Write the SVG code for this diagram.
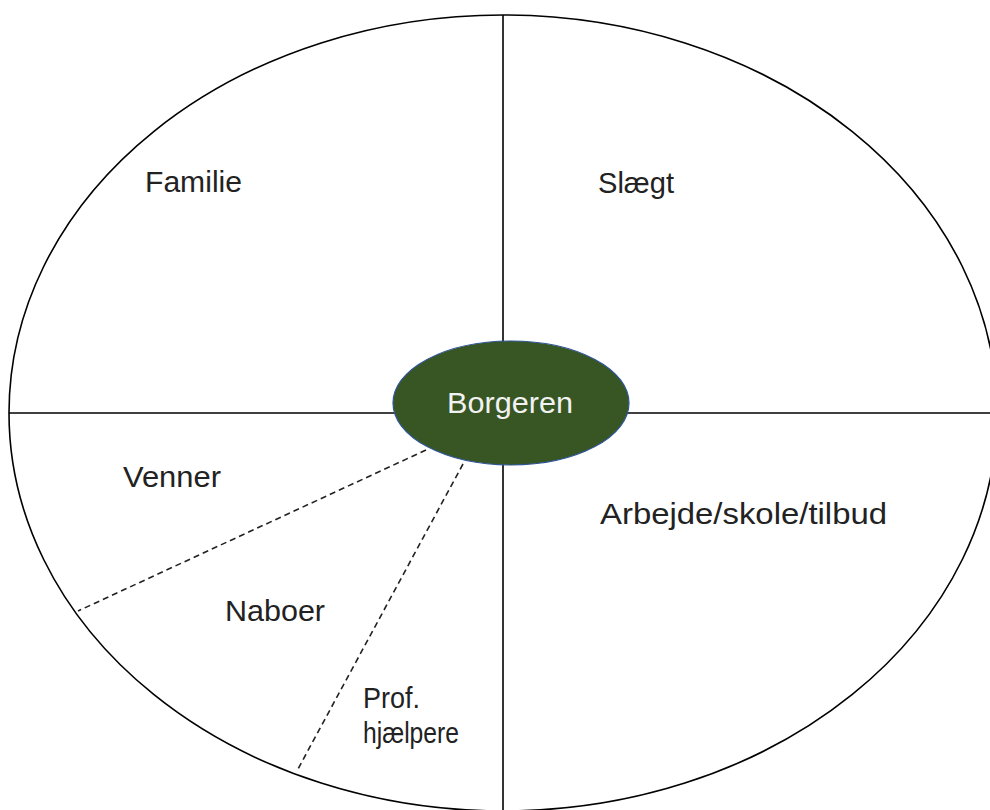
<svg xmlns="http://www.w3.org/2000/svg" width="990" height="810" viewBox="0 0 990 810">
<style>
.lbl{font-family:"Liberation Sans",Arial,sans-serif;font-size:30px;fill:#222;}
.ln{stroke:#000;stroke-width:1.6;fill:none;}
.dash{stroke:#222;stroke-width:1.6;fill:none;stroke-dasharray:6,4;}
</style>
<rect width="990" height="810" fill="#fff"/>
<g id="outer">
<ellipse cx="503" cy="413" rx="494" ry="398" class="ln"/>
</g>
<g id="connectors">
<line x1="9" y1="413" x2="990" y2="413" class="ln"/>
<line x1="503" y1="15" x2="503" y2="810" class="ln"/>
<line x1="426" y1="450" x2="78" y2="611" class="dash"/>
<line x1="463" y1="464" x2="298" y2="769" class="dash"/>
</g>
<g id="center">
<ellipse cx="511" cy="403" rx="118" ry="62" fill="#375623" stroke="#2F5597" stroke-width="1.2"/>
<text x="510" y="413" text-anchor="middle" class="lbl" style="fill:#f2f2f2;font-size:29px" textLength="126" lengthAdjust="spacingAndGlyphs">Borgeren</text>
</g>
<g id="familie"><text x="145" y="192" class="lbl" textLength="97" lengthAdjust="spacingAndGlyphs">Familie</text></g>
<g id="slaegt"><text x="598" y="193" class="lbl" textLength="76" lengthAdjust="spacingAndGlyphs">Slægt</text></g>
<g id="venner"><text x="123" y="487" class="lbl" textLength="98" lengthAdjust="spacingAndGlyphs">Venner</text></g>
<g id="arbejde"><text x="600" y="524" class="lbl" textLength="287" lengthAdjust="spacingAndGlyphs">Arbejde/skole/tilbud</text></g>
<g id="naboer"><text x="225" y="621" class="lbl" textLength="100" lengthAdjust="spacingAndGlyphs">Naboer</text></g>
<g id="prof"><text x="363" y="708" class="lbl" textLength="57" lengthAdjust="spacingAndGlyphs">Prof.</text><text x="363" y="743" class="lbl" textLength="96" lengthAdjust="spacingAndGlyphs">hjælpere</text></g>
</svg>
